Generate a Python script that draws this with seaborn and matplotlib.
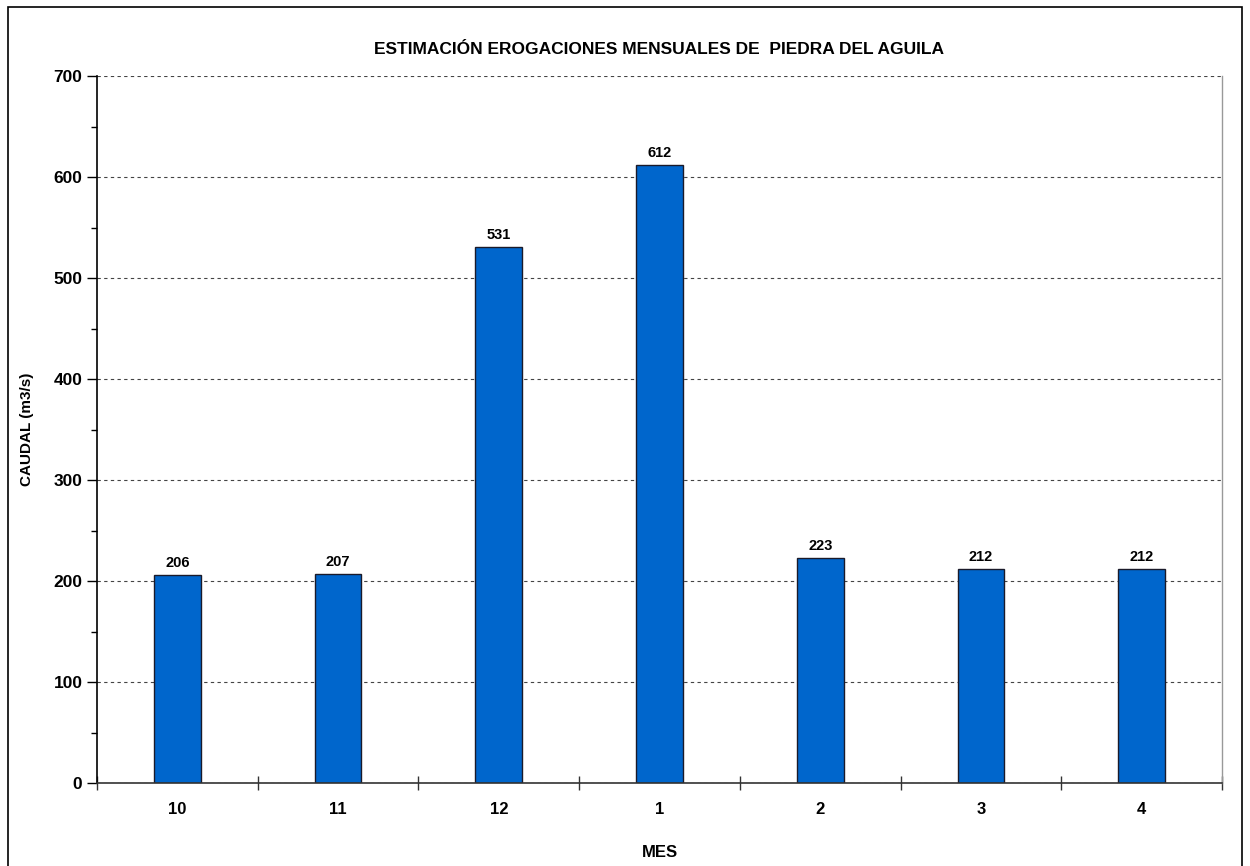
import matplotlib
matplotlib.use("Agg")
import matplotlib.pyplot as plt
import seaborn as sns
import pandas as pd
from matplotlib.patches import Rectangle
from matplotlib.ticker import MultipleLocator, FixedLocator

meses = ["10", "11", "12", "1", "2", "3", "4"]
caudal = [206, 207, 531, 612, 223, 212, 212]
titulo = "ESTIMACIÓN EROGACIONES MENSUALES DE  PIEDRA DEL AGUILA"

sns.set_theme(style="white")
plt.rcParams['font.family'] = ['Liberation Sans', 'DejaVu Sans']
plt.rcParams['font.weight'] = 'bold'
plt.rcParams['text.color'] = 'black'
plt.rcParams['axes.labelcolor'] = 'black'
plt.rcParams['xtick.color'] = 'black'
plt.rcParams['ytick.color'] = 'black'

df = pd.DataFrame({"MES": meses, "CAUDAL": caudal})

fig = plt.figure(figsize=(12.5, 8.66), dpi=100)
ax = fig.add_axes([97/1250, 1-783/866, (1222-97)/1250, (783-76)/866])

sns.barplot(data=df, x="MES", y="CAUDAL", order=meses, color="#0066CC",
            saturation=1, width=0.29, edgecolor="#1a1a2a", linewidth=1.0, ax=ax)

ax.set_ylim(0, 700)
ax.set_xlim(-0.5, len(meses) - 0.5)
ax.yaxis.set_major_locator(MultipleLocator(100))
ax.yaxis.set_minor_locator(MultipleLocator(50))
ax.grid(axis="y", which="major", linestyle=(0, (3, 3)), color="#444444", linewidth=0.8)
ax.set_axisbelow(True)

for i, v in enumerate(caudal):
    ax.text(i, v + 5, f"{v}", ha="center", va="bottom", fontsize=10.5,
            fontweight="bold", color="black")

ax.set_xticks(range(len(meses)))
ax.set_xticklabels(meses, fontsize=12, fontweight="bold")
ax.tick_params(axis="x", which="major", length=0, pad=14, labelcolor="black")
ax.xaxis.set_minor_locator(FixedLocator([i - 0.5 for i in range(len(meses) + 1)]))
ax.tick_params(axis="x", which="minor", bottom=True, length=10, direction="inout",
               color="#333333", width=1)
ax.tick_params(axis="y", which="major", left=True, length=7, direction="out",
               color="black", width=1, labelsize=12.5, labelcolor="black")
ax.tick_params(axis="y", which="minor", left=True, length=4, direction="out",
               color="black", width=1)
for lbl in ax.get_yticklabels():
    lbl.set_fontweight("bold")

ax.spines["top"].set_visible(False)
ax.spines["left"].set_color("black")
ax.spines["left"].set_linewidth(1.2)
ax.spines["bottom"].set_color("#333333")
ax.spines["bottom"].set_linewidth(1.2)
ax.spines["right"].set_color("#999999")
ax.spines["right"].set_linewidth(1.0)

ax.set_xlabel("MES", fontsize=12, fontweight="bold", labelpad=20, color="black")
ax.set_ylabel("CAUDAL (m3/s)", fontsize=11, fontweight="bold", labelpad=14, color="black")
ax.set_title(titulo, fontsize=12.5, fontweight="bold", pad=20, y=0.992, color="black")

fig.patches.append(Rectangle((8/1250, -0.01), (1242-8)/1250, 1 - 7/866 + 0.01,
                             transform=fig.transFigure, fill=False,
                             edgecolor="black", linewidth=1.2))

fig.savefig("out.png", dpi=100)
